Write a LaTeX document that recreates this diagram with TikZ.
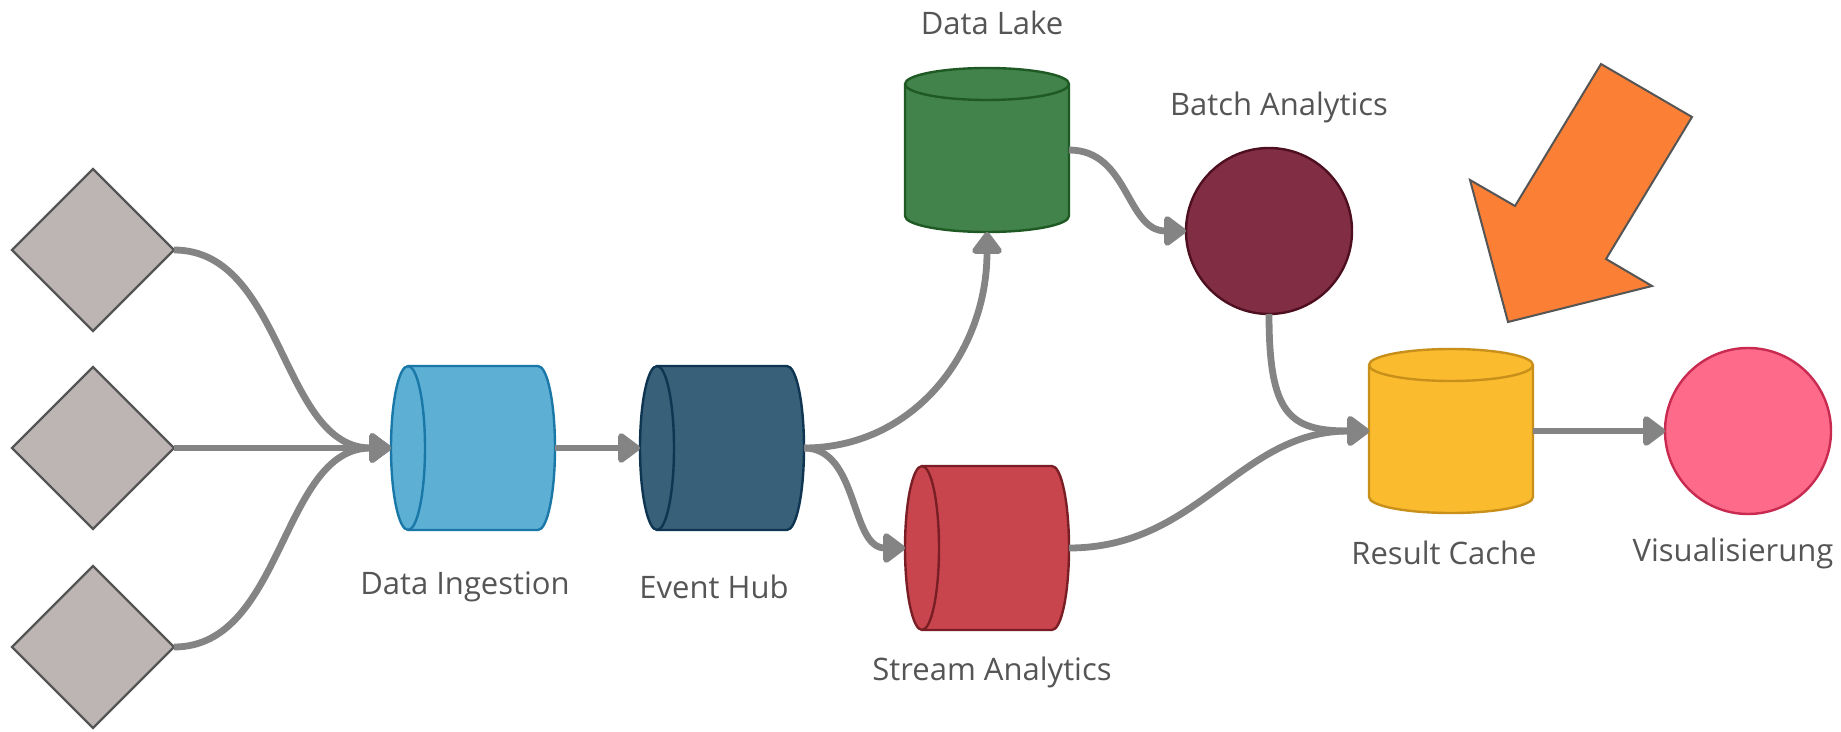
\documentclass[tikz,border=0pt]{standalone}
\usepackage{fontspec}
\setmainfont{Open Sans}
\usetikzlibrary{shapes.geometric,arrows.meta,calc}
\definecolor{diafill}{HTML}{BDB5B3}
\definecolor{diadraw}{HTML}{555555}
\definecolor{ingfill}{HTML}{5DAFD4}
\definecolor{ingdraw}{HTML}{1A78A8}
\definecolor{hubfill}{HTML}{386078}
\definecolor{hubdraw}{HTML}{0F3552}
\definecolor{dlfill}{HTML}{41834A}
\definecolor{dldraw}{HTML}{1F5A25}
\definecolor{bafill}{HTML}{812E45}
\definecolor{badraw}{HTML}{4E0F20}
\definecolor{safill}{HTML}{C9454E}
\definecolor{sadraw}{HTML}{7A1E25}
\definecolor{rcfill}{HTML}{FBBB2F}
\definecolor{rcdraw}{HTML}{C8901A}
\definecolor{visfill}{HTML}{FD6A8A}
\definecolor{visdraw}{HTML}{C82A50}
\definecolor{orfill}{HTML}{FB8035}
\definecolor{txtc}{HTML}{555555}
\definecolor{connc}{HTML}{848484}
\newcommand\hcyl[3]{%
  \path[fill=#2,draw=#3,line width=1.2pt]
   let \p1=(#1.north west), \p2=(#1.south east), \n1={(\y1-\y2)/2} in
   (\x1+8.5pt,\y1) -- (\x2-8.5pt,\y1)
   arc[start angle=90,end angle=-90,x radius=8.5pt,y radius=\n1]
   -- (\x1+8.5pt,\y2)
   arc[start angle=270,end angle=90,x radius=8.5pt,y radius=\n1] -- cycle;
  \path[draw=#3,line width=1.2pt]
   let \p1=(#1.north west), \p2=(#1.south east), \n1={(\y1-\y2)/2} in
   (\x1+8.5pt,\y1) arc[start angle=90,end angle=-90,x radius=8.5pt,y radius=\n1];
}
\newcommand\vcyl[3]{%
  \path[fill=#2,draw=#3,line width=1.2pt]
   let \p1=(#1.north west), \p2=(#1.south east), \n1={(\x2-\x1)/2} in
   (\x1,\y1-8pt) -- (\x1,\y2+8pt)
   arc[start angle=180,end angle=360,x radius=\n1,y radius=8pt]
   -- (\x2,\y1-8pt)
   arc[start angle=0,end angle=180,x radius=\n1,y radius=8pt] -- cycle;
  \path[draw=#3,line width=1.2pt]
   let \p1=(#1.north west), \p2=(#1.south east), \n1={(\x2-\x1)/2} in
   (\x1,\y1-8pt) arc[start angle=180,end angle=360,x radius=\n1,y radius=8pt];
}
\tikzset{
  src/.style={diamond,aspect=1,minimum width=81pt,minimum height=81pt,inner sep=0pt,outer sep=0pt,fill=diafill,draw=diadraw,line width=1.2pt},
  cylbox/.style={rectangle,minimum width=82pt,minimum height=82pt,inner sep=0pt,outer sep=0pt},
  round node/.style={circle,minimum size=83pt,inner sep=0pt,outer sep=0pt,line width=1.2pt},
  lbl/.style={text=txtc,font=\fontsize{15.5pt}{18pt}\selectfont,inner sep=0pt},
  conn/.style={draw=connc,line width=3.4pt,-{Triangle[length=12pt,width=17pt,round]}},
}
\begin{document}
\begin{tikzpicture}[x=0.5pt,y=-0.5pt]
\useasboundingbox (0,0) rectangle (1841,732);
% sources
\node[src] (d1) at (93,250) {};
\node[src] (d2) at (93,448) {};
\node[src] (d3) at (93,647) {};
% cylinders
\node[cylbox] (ing) at (473,448) {};
\node[cylbox] (hub) at (722,448) {};
\node[cylbox] (dl) at (987,150) {};
\node[cylbox] (sa) at (987,548) {};
\node[cylbox] (rc) at (1451,431) {};
\hcyl{ing}{ingfill}{ingdraw}
\hcyl{hub}{hubfill}{hubdraw}
\vcyl{dl}{dlfill}{dldraw}
\hcyl{sa}{safill}{sadraw}
\vcyl{rc}{rcfill}{rcdraw}
% circles
\node[round node,fill=bafill,draw=badraw] (ba) at (1269,231) {};
\node[round node,fill=visfill,draw=visdraw] (vis) at (1748,431) {};
% labels
\node[lbl] (ingl) at (465,587) {Data Ingestion};
\node[lbl] (hubl) at (714,587) {Event Hub};
\node[lbl] (dll) at (992,23) {Data Lake};
\node[lbl] (bal) at (1279,107) {Batch Analytics};
\node[lbl] (sal) at (992,672) {Stream Analytics};
\node[lbl] (rcl) at (1444,553) {Result Cache};
\node[lbl] (visl) at (1733,553) {Visualisierung};
% connectors
\draw[conn] (d1.east) .. controls +(110,0) and +(-110,0) .. (ing.west);
\draw[conn] (d2.east) -- (ing.west);
\draw[conn] (d3.east) .. controls +(110,0) and +(-110,0) .. (ing.west);
\draw[conn] (ing.east) -- (hub.west);
\draw[conn] (hub.east) .. controls +(110,0) and +(0,120) .. (dl.south);
\draw[conn] (hub.east) .. controls +(55,0) and +(-55,0) .. (sa.west);
\draw[conn] (dl.east) .. controls +(60,0) and +(-60,0) .. (ba.west);
\draw[conn] (ba.south) .. controls +(0,100) and +(-80,0) .. (rc.west);
\draw[conn] (sa.east) .. controls +(130,0) and +(-130,0) .. (rc.west);
\draw[conn] (rc.east) -- (vis.west);
% orange arrow
\draw[fill=orfill,draw=diadraw,line width=1pt,line join=miter]
  (1601,64) -- (1692,117) -- (1606,259) -- (1652,286) -- (1508,322) -- (1470,180) -- (1515,206) -- cycle;
\end{tikzpicture}
\end{document}
